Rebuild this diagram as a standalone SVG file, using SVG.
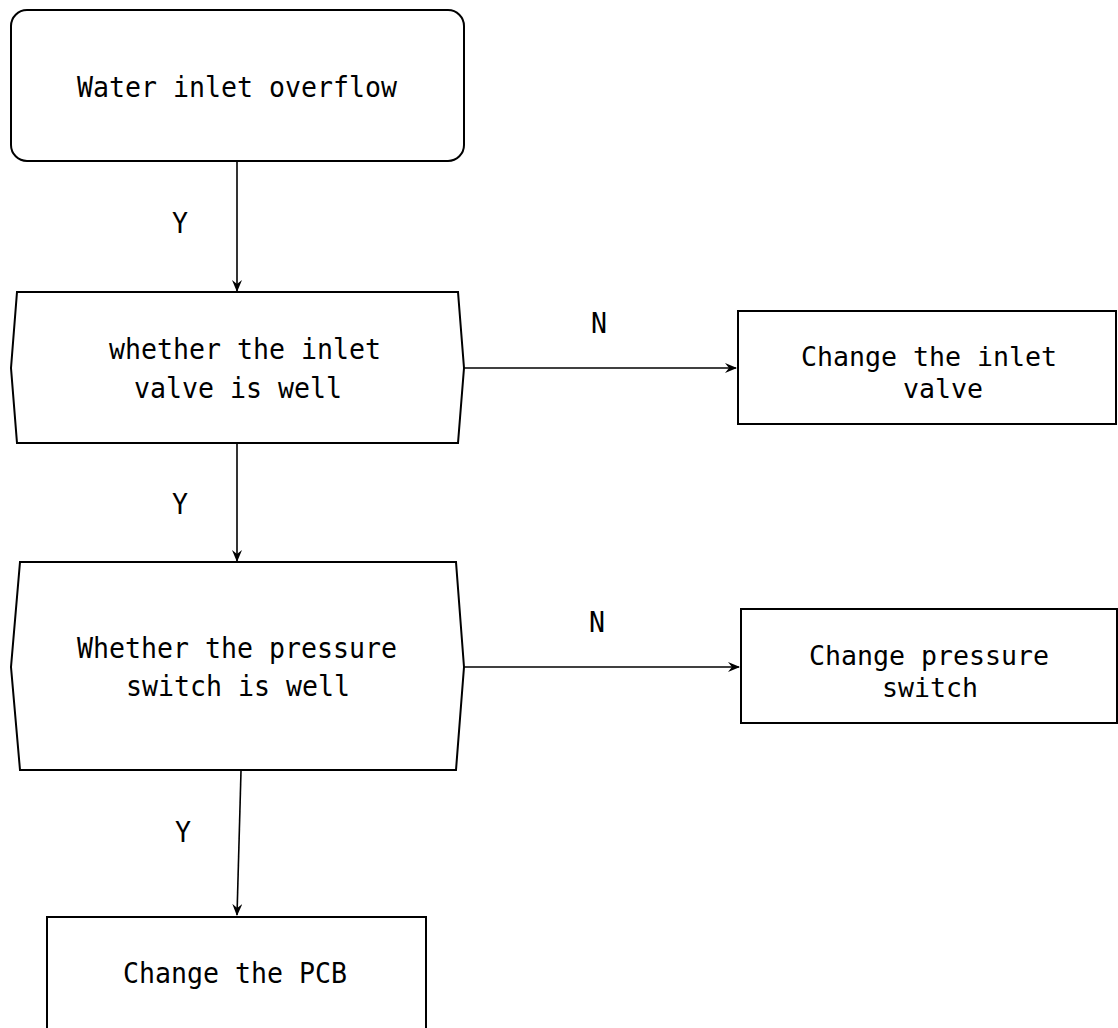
<svg xmlns="http://www.w3.org/2000/svg" width="1118" height="1028" viewBox="0 0 1118 1028">
<style>
.n{fill:#fff;stroke:#000;stroke-width:2}
.c{fill:none;stroke:#000;stroke-width:1.6}
text{font-family:"DejaVu Sans Mono","Liberation Mono",monospace;font-size:29px;fill:#000}
text.s{font-size:26px}
</style>
<defs>
<marker id="a" viewBox="0 0 12 10" refX="11" refY="5" markerWidth="12" markerHeight="10" markerUnits="userSpaceOnUse" orient="auto">
<path d="M0,0 L12,5 L0,10 L4,5 z" fill="#000"/>
</marker>
</defs>
<rect width="1118" height="1028" fill="#fff"/>
<g id="connectors">
<line class="c" x1="237" y1="161" x2="237" y2="291" marker-end="url(#a)"/>
<line class="c" x1="237" y1="443" x2="237" y2="561" marker-end="url(#a)"/>
<line class="c" x1="241" y1="771" x2="237" y2="915" marker-end="url(#a)"/>
<line class="c" x1="464" y1="368" x2="736" y2="368" marker-end="url(#a)"/>
<line class="c" x1="464" y1="667" x2="739" y2="667" marker-end="url(#a)"/>
<text x="172" y="233" textLength="16" lengthAdjust="spacingAndGlyphs">Y</text>
<text x="172" y="514" textLength="16" lengthAdjust="spacingAndGlyphs">Y</text>
<text x="175" y="842" textLength="16" lengthAdjust="spacingAndGlyphs">Y</text>
<text x="591" y="333" textLength="16" lengthAdjust="spacingAndGlyphs">N</text>
<text x="589" y="632" textLength="16" lengthAdjust="spacingAndGlyphs">N</text>
</g>
<g id="start">
<rect class="n" x="11" y="10" width="453" height="151" rx="16"/>
<text x="77" y="97" textLength="320" lengthAdjust="spacingAndGlyphs">Water inlet overflow</text>
</g>
<g id="decision1">
<polygon class="n" points="17,292 458,292 464,368 458,443 17,443 11,368"/>
<text x="109" y="359" textLength="272" lengthAdjust="spacingAndGlyphs">whether the inlet</text>
<text x="134" y="398" textLength="208" lengthAdjust="spacingAndGlyphs">valve is well</text>
</g>
<g id="change-valve">
<rect class="n" x="738" y="311" width="378" height="113"/>
<text class="s" x="801" y="366" textLength="256" lengthAdjust="spacingAndGlyphs">Change the inlet</text>
<text class="s" x="903" y="398" textLength="80" lengthAdjust="spacingAndGlyphs">valve</text>
</g>
<g id="decision2">
<polygon class="n" points="20,562 456,562 464,667 456,770 20,770 11,667"/>
<text x="77" y="658" textLength="320" lengthAdjust="spacingAndGlyphs">Whether the pressure</text>
<text x="126" y="696" textLength="224" lengthAdjust="spacingAndGlyphs">switch is well</text>
</g>
<g id="change-switch">
<rect class="n" x="741" y="609" width="376" height="114"/>
<text class="s" x="809" y="665" textLength="240" lengthAdjust="spacingAndGlyphs">Change pressure</text>
<text class="s" x="882" y="697" textLength="96" lengthAdjust="spacingAndGlyphs">switch</text>
</g>
<g id="change-pcb">
<rect class="n" x="47" y="917" width="379" height="130"/>
<text x="123" y="983" textLength="224" lengthAdjust="spacingAndGlyphs">Change the PCB</text>
</g>
</svg>
